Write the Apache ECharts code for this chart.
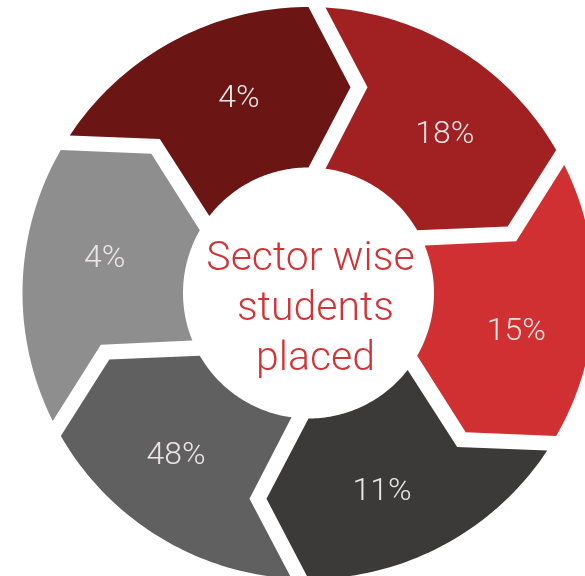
<!DOCTYPE html>
<html>
<head>
<meta charset="utf-8">
<script src="https://cdn.jsdelivr.net/npm/echarts@6/dist/echarts.min.js"></script>
<style>
  html, body { margin: 0; padding: 0; background: #fff; }
  #main { width: 585px; height: 576px; }
</style>
</head>
<body>
<div id="main"></div>
<script>
// clockwise, starting with the dark red block at the top left
var shareValues = [4, 18, 15, 11, 48, 4];
var segColors = ['#6b1515', '#a12122', '#d13033', '#3b3a38', '#606060', '#8e8e8e'];
var centerLines = ['Sector wise ', 'students', 'placed'];

var R_IN = 125.5, R_OUT = 286;
var CX = 308.5, CY = 293;
var TIP = 42;   // how far the chevron point sticks out
var GAP = 17;   // white gap between blocks
var FONT = '"Roboto Light", Roboto, "Noto Sans", sans-serif';

function renderSegment(params, api) {
    var n = shareValues.length;
    var span = 360 / n;
    var i = params.dataIndex;
    var a = 300 + span * i;   // notched side
    var b = a + span;         // pointed side
    var mid = (R_IN + R_OUT) / 2;
    var deg = 180 / Math.PI;

    // point at radial distance rho along boundary ang, shifted tangentially by t
    function pt(rho, t, ang) {
        return api.coord([Math.sqrt(rho * rho + t * t), (ang + Math.atan2(t, rho) * deg) % 360]);
    }

    var pts = [];
    var aOut = a + Math.asin(GAP / R_OUT) * deg;
    var aIn = a + Math.asin(GAP / R_IN) * deg;
    var steps = 48, k;
    for (k = 0; k <= steps; k++) {
        pts.push(api.coord([R_OUT, (aOut + (b - aOut) * k / steps) % 360]));
    }
    pts.push(pt(mid, TIP, b));
    for (k = 0; k <= steps; k++) {
        pts.push(api.coord([R_IN, (b - (b - aIn) * k / steps) % 360]));
    }
    pts.push(pt(mid, TIP + GAP, a));

    var lp = api.coord([209, (a + span / 2 + 10) % 360]);

    return {
        type: 'group',
        children: [{
            type: 'polygon',
            shape: { points: pts },
            style: { fill: segColors[i] }
        }, {
            type: 'text',
            x: lp[0] + 2,
            y: lp[1] + 1,
            style: {
                text: shareValues[i] + '%',
                fill: '#ebe6e6',
                font: '300 32px ' + FONT,
                align: 'center',
                verticalAlign: 'middle'
            }
        }]
    };
}

var chart = echarts.init(document.getElementById('main'));
var option = {
    backgroundColor: '#ffffff',
    animation: false,
    polar: {
        center: [CX, CY],
        radius: [R_IN, R_OUT]
    },
    angleAxis: {
        type: 'value',
        min: 0,
        max: 360,
        startAngle: 90,
        clockwise: true,
        show: false
    },
    radiusAxis: {
        type: 'value',
        min: R_IN,
        max: R_OUT,
        show: false
    },
    graphic: centerLines.map(function (line, i) {
        return {
            type: 'text',
            x: CX + 7,
            y: CY - 35 + i * 50,
            style: {
                text: line,
                fill: '#d13438',
                font: '300 41px ' + FONT,
                align: 'center',
                verticalAlign: 'middle'
            }
        };
    }),
    series: [{
        type: 'custom',
        coordinateSystem: 'polar',
        renderItem: renderSegment,
        data: shareValues
    }]
};
chart.setOption(option);
</script>
</body>
</html>
